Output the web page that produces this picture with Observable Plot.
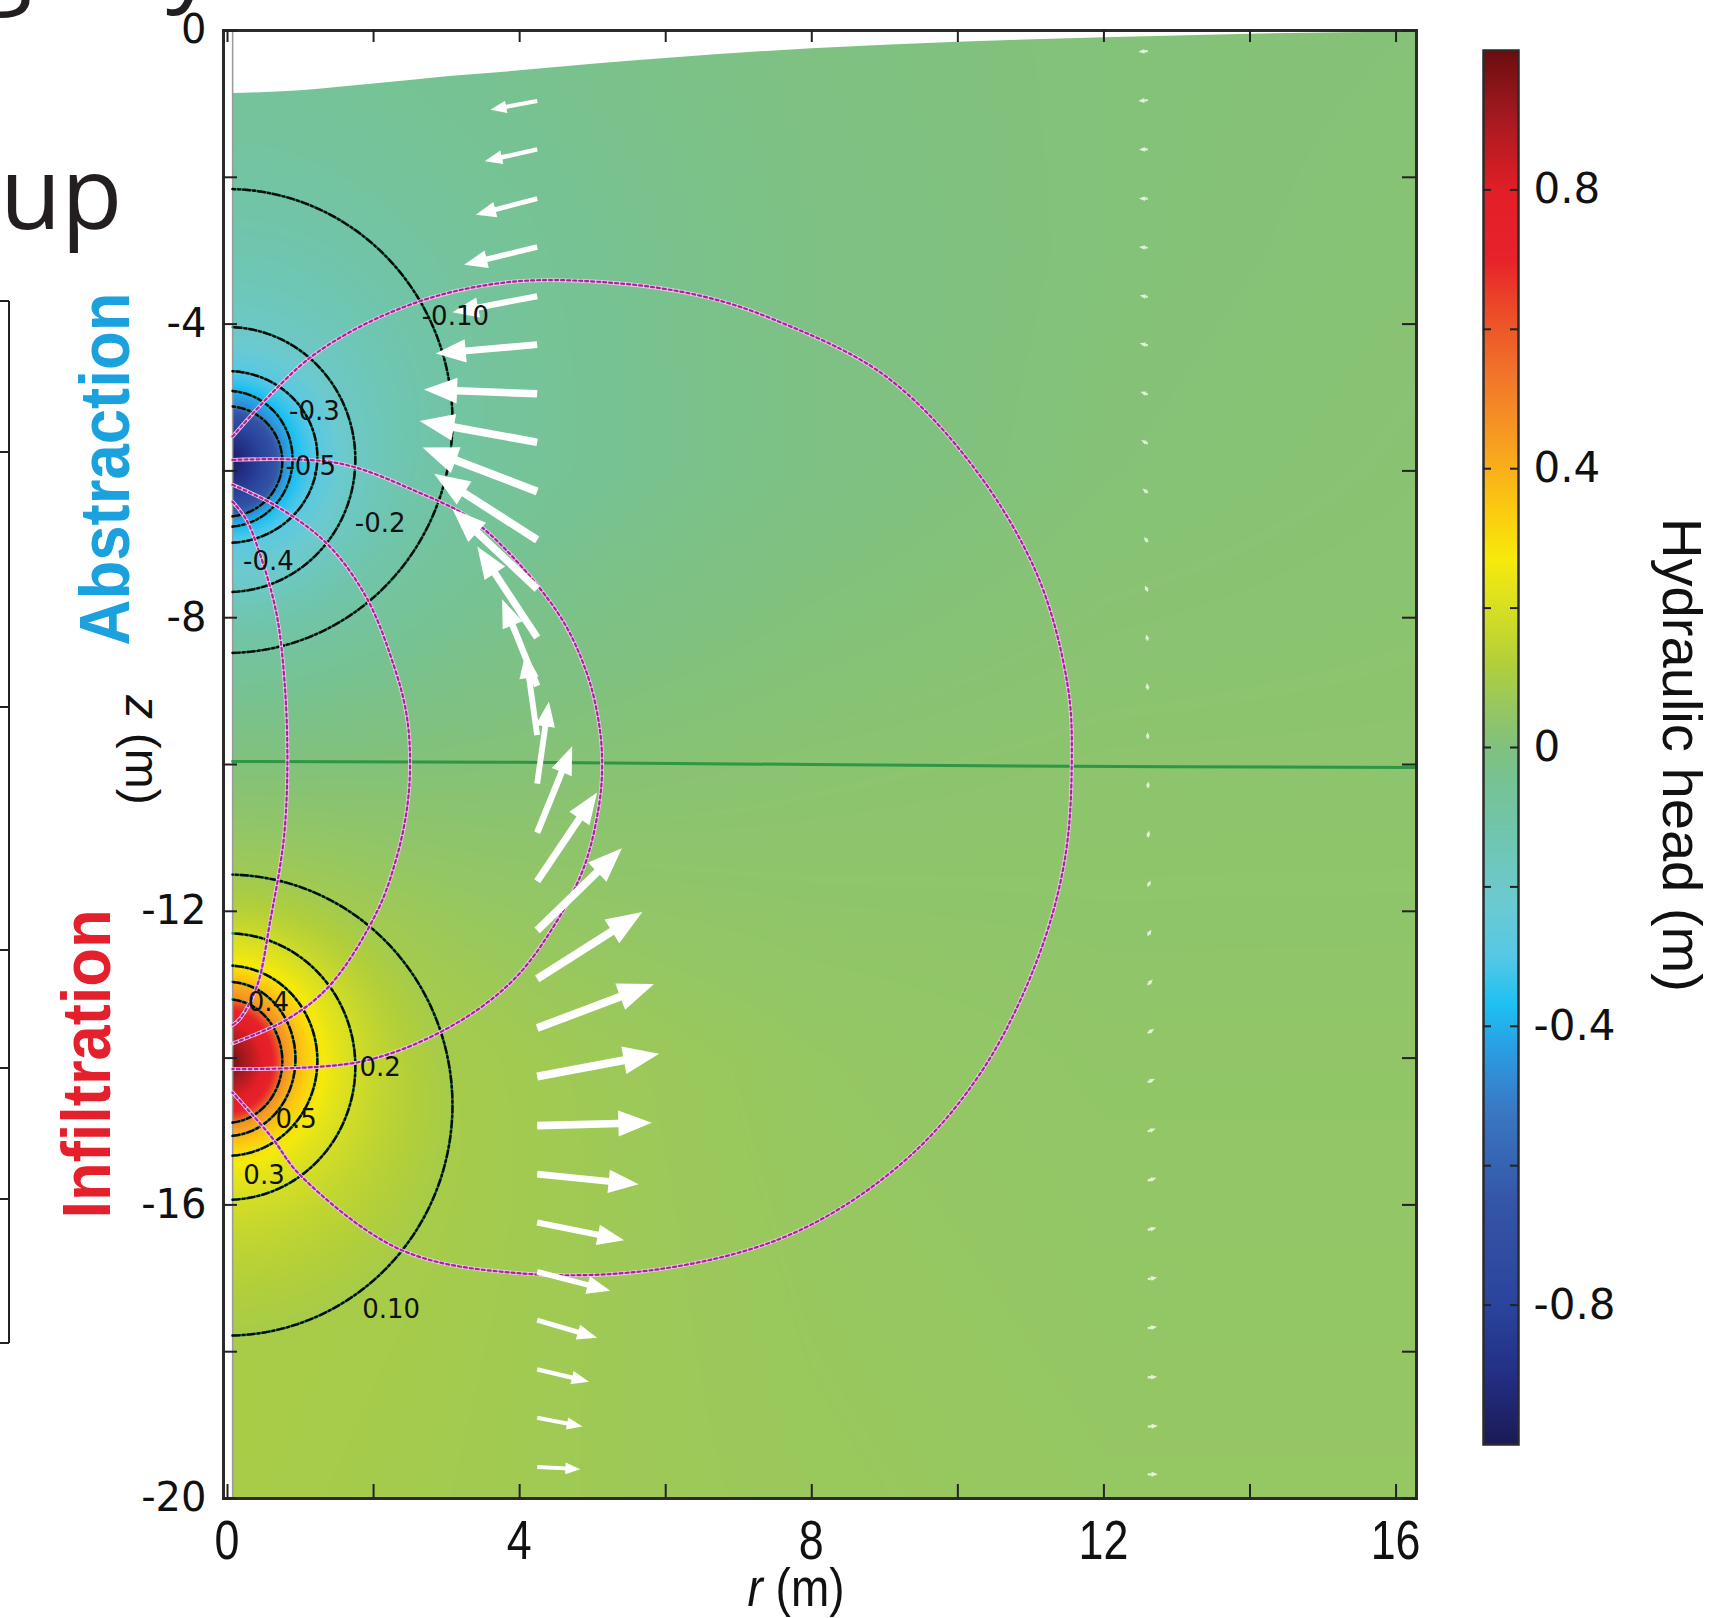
<!DOCTYPE html>
<html><head><meta charset="utf-8">
<script src="https://cdn.jsdelivr.net/npm/d3@7"></script>
<script src="https://cdn.jsdelivr.net/npm/@observablehq/plot@0.6"></script>
<style>
html,body{margin:0;padding:0;background:#fff;}
#wrap{position:relative;width:1729px;height:1618px;overflow:hidden;background:#fff;}
#wrap svg{position:absolute;overflow:visible;}
</style></head><body><div id="wrap"></div>
<script>
// ---------- axes / ticks ----------
const rTicks = [0, 4, 8, 12, 16];
const rMinor = [0, 2, 4, 6, 8, 10, 12, 14, 16];
const zTicks = [0, -4, -8, -12, -16, -20];
const zMinor = [0, -2, -4, -6, -8, -10, -12, -14, -16, -18, -20];
const cbTicks = [0.8, 0.4, 0, -0.4, -0.8];
const cbTickLabels = ["0.8", "0.4", "0", "-0.4", "-0.8"];
const cbMinor = [0.8, 0.6, 0.4, 0.2, 0, -0.2, -0.4, -0.6, -0.8];

// ---------- colour map ----------
const cmapValues = [-1.0,-0.9,-0.8,-0.65,-0.52,-0.43,-0.37,-0.3,-0.22,-0.12,-0.04,0,0.05,0.12,0.2,0.27,0.34,0.42,0.52,0.62,0.7,0.8,0.9,1.0];
const cmapColors = ["#1b1a55","#232f85","#2a449d","#3456a8","#3a78c4","#2a9fe3","#1ec0f2","#55c8e6","#6ccad0","#6fc5ad","#78c290","#80c17e","#93c665","#b2cf3a","#d8df22","#f6ea0b","#fccb10","#f8a61e","#f27b2a","#ec4f28","#e8222a","#e21e26","#a81a20","#6a0d10"];

// ---------- domain ----------
const wellRadius = 0.07;
const rFrame = [-0.055, 16.28];
const zFrame = [-20, 0];

// water table (top of saturated domain)
const wtR = [0.07, 1, 2, 3, 4, 5, 6, 8, 10, 12, 14, 16.28];
const wtZ = [-0.86, -0.82, -0.73, -0.63, -0.55, -0.46, -0.38, -0.25, -0.16, -0.1, -0.05, -0.02];

// zero-head line between the wells
const midR = [0.07, 4, 8, 10.8, 12.9, 16.28];
const midZ = [-9.96, -9.97, -10.0, -10.02, -10.03, -10.04];

// ---------- far-field head (m), read on a coarse grid ----------
const bgR = [0, 4, 8, 12, 16.3];
const bgZ = [0, -3, -6, -10, -14, -17, -20];
const bgRow0  = [-0.05, -0.03, -0.005, 0.01, 0.015];
const bgRow3  = [-0.07, -0.045, -0.01, 0.01, 0.02];
const bgRow6  = [-0.08, -0.05, -0.01, 0.015, 0.025];
const bgRow10 = [0.01, 0.02, 0.03, 0.035, 0.035];
const bgRow14 = [0.11, 0.08, 0.055, 0.045, 0.045];
const bgRow17 = [0.11, 0.08, 0.06, 0.05, 0.05];
const bgRow20 = [0.10, 0.08, 0.065, 0.055, 0.055];

// ---------- contours around the wells ----------
const absLevels = [-0.10, -0.2, -0.3, -0.4, -0.5];
const absRmax   = [3.08, 1.75, 1.23, 0.89, 0.75];
const absZtop   = [-2.16, -4.04, -4.64, -4.91, -5.12];
const absZbot   = [-8.48, -7.65, -6.98, -6.76, -6.62];
const absPeak = -1.0;
const infLevels = [0.10, 0.2, 0.3, 0.4, 0.5];
const infRmax   = [3.08, 1.75, 1.23, 0.93, 0.75];
const infZtop   = [-11.5, -12.3, -12.74, -12.96, -13.2];
const infZbot   = [-17.78, -15.93, -15.33, -15.06, -14.88];
const infPeak = 1.0;

// contour labels
const labelText = ["-0.10", "-0.3", "-0.5", "-0.2", "-0.4", "0.4", "0.2", "0.5", "0.3", "0.10"];
const labelR = [3.12, 1.19, 1.14, 2.09, 0.56, 0.56, 2.09, 0.94, 0.50, 2.24];
const labelZ = [-3.90, -5.19, -5.94, -6.72, -7.24, -13.24, -14.13, -14.84, -15.60, -17.43];

// ---------- stream lines ----------
const streamA = [[0.07,-6.42],[0.26,-6.67],[0.44,-7.12],[0.67,-7.94],[0.78,-8.86],[0.82,-9.9],[0.79,-10.8],[0.73,-11.32],[0.59,-12.1],[0.41,-13.0],[0.18,-13.45],[0.07,-13.55]];
const streamB = [[0.07,-6.19],[0.67,-6.48],[1.36,-6.99],[1.9,-7.72],[2.27,-8.63],[2.45,-9.31],[2.5,-10.0],[2.45,-10.65],[2.3,-11.32],[2.05,-12.0],[1.41,-13.0],[0.82,-13.47],[0.07,-13.8]];
const streamC = [[0.07,-5.85],[1.49,-5.89],[2.54,-6.26],[3.41,-6.71],[4.5,-7.9],[4.9,-8.7],[5.08,-9.4],[5.13,-10.0],[5.08,-10.6],[4.88,-11.4],[4.5,-12.15],[3.9,-12.95],[3.0,-13.6],[1.82,-14.05],[0.07,-14.15]];
const streamD = [[0.07,-5.53],[1.14,-4.45],[2.46,-3.75],[3.83,-3.43],[5.3,-3.44],[6.5,-3.62],[7.46,-3.93],[8.97,-4.68],[10.17,-5.89],[11.08,-7.4],[11.5,-8.9],[11.56,-9.96],[11.46,-11.32],[11.08,-12.68],[10.32,-14.19],[9.27,-15.4],[7.76,-16.38],[5.95,-16.87],[3.98,-16.93],[2.37,-16.61],[1.0,-15.6],[0.59,-15.06],[0.07,-14.47]];

// ---------- velocity arrows ----------
const arrowR = 4.24;
const arrowZ  = [-0.96,-1.62,-2.29,-2.95,-3.62,-4.28,-4.95,-5.61,-6.28,-6.94,-7.61,-8.27,-8.93,-9.60,-10.26,-10.93,-11.59,-12.26,-12.92,-13.59,-14.25,-14.92,-15.58,-16.24,-16.91,-17.57,-18.24,-18.90,-19.57];
const arrowDr = [-0.64,-0.72,-0.84,-1.00,-1.16,-1.39,-1.55,-1.61,-1.57,-1.41,-1.16,-0.82,-0.48,-0.16,0.16,0.48,0.82,1.16,1.44,1.60,1.67,1.57,1.39,1.19,1.00,0.82,0.71,0.62,0.59];
const arrowDz = [-0.12,-0.16,-0.22,-0.24,-0.22,-0.12,0.06,0.29,0.60,0.90,1.09,1.24,1.18,1.12,1.12,1.18,1.21,1.12,0.91,0.60,0.31,0.04,-0.14,-0.24,-0.26,-0.24,-0.17,-0.12,-0.03];
const farArrowR = 12.6;
const farArrowZ  = [-0.28,-0.95,-1.62,-2.29,-2.96,-3.63,-4.29,-4.96,-5.63,-6.30,-6.97,-7.64,-8.31,-8.98,-9.65,-10.32,-10.99,-11.66,-12.33,-13.00,-13.66,-14.33,-15.00,-15.67,-16.34,-17.01,-17.68,-18.35,-19.02,-19.67];
const farArrowDr = [-0.13,-0.13,-0.12,-0.12,-0.12,-0.11,-0.11,-0.1,-0.09,-0.07,-0.05,-0.04,-0.02,-0.01,0,0.01,0.02,0.04,0.05,0.07,0.09,0.1,0.11,0.12,0.12,0.13,0.13,0.13,0.14,0.14];
const farArrowDz = [-0.01,-0.01,0,0,0.01,0.02,0.03,0.04,0.05,0.06,0.07,0.08,0.08,0.09,0.09,0.09,0.09,0.08,0.08,0.07,0.06,0.05,0.04,0.04,0.03,0.02,0.02,0.01,0.01,0];

// ================= derived tables =================
const bgRows = [bgRow0, bgRow3, bgRow6, bgRow10, bgRow14, bgRow17, bgRow20];
const bgDepth = bgZ.map(z => -z);
function interp1(xs, ys, x) {
  if (x <= xs[0]) return ys[0];
  for (let i = 1; i < xs.length; i++) if (x <= xs[i]) {
    const t = (x - xs[i-1]) / (xs[i] - xs[i-1]); return ys[i-1] + t * (ys[i] - ys[i-1]);
  }
  return ys[ys.length - 1];
}
function bgAt(r, z) {
  const col = bgRows.map(row => interp1(bgR, row, r));
  return interp1(bgDepth, col, -z);
}
const wellA = {levels: absLevels, rMax: absRmax, zTop: absZtop, zBot: absZbot, peak: absPeak};
const wellI = {levels: infLevels, rMax: infRmax, zTop: infZtop, zBot: infZbot, peak: infPeak};
function sOf(r, z, w, i) {
  const zc = (w.zTop[i] + w.zBot[i]) / 2, b = (w.zTop[i] - w.zBot[i]) / 2;
  return Math.hypot(r / w.rMax[i], (z - zc) / b);
}
function wellEval(r, z, w) {
  const n = w.levels.length;
  const s = w.levels.map((_, i) => sOf(r, z, w, i));
  if (s[0] >= 1) return {inside: false, s0: s[0]};
  let i = 0; while (i + 1 < n && s[i+1] < 1) i++;
  if (i === n - 1) return {inside: true, value: w.levels[n-1] + (w.peak - w.levels[n-1]) * Math.sqrt(1 - s[n-1])};
  const so = s[i], si = s[i+1];
  const t = (1 - so) / ((1 - so) + (si - 1));
  return {inside: true, value: w.levels[i] + (w.levels[i+1] - w.levels[i]) * t};
}
function headAt(r, z) {
  const b = bgAt(r, z);
  const A = wellEval(r, z, wellA), I = wellEval(r, z, wellI);
  const anomA = A.inside ? 0 : (wellA.levels[0] - b) * Math.pow(A.s0, -3);
  const anomI = I.inside ? 0 : (wellI.levels[0] - b) * Math.pow(I.s0, -3);
  if (A.inside) return A.value + anomI;
  if (I.inside) return I.value + anomA;
  return b + anomA + anomI;
}

const waterTable = wtR.map((r, i) => ({r, z: wtZ[i]}));
const midLine = midR.map((r, i) => ({r, z: midZ[i]}));

const contourPts = [];
[wellA, wellI].forEach((w, wi) => w.levels.forEach((lv, i) => {
  const zc = (w.zTop[i] + w.zBot[i]) / 2, b = (w.zTop[i] - w.zBot[i]) / 2, a = w.rMax[i];
  for (let t = -90; t <= 90; t += 1.5) {
    const th = t * Math.PI / 180;
    contourPts.push({id: wi + "-" + i, r: Math.max(wellRadius, a * Math.cos(th)), z: zc + b * Math.sin(th)});
  }
}));
const labels = labelText.map((t, i) => ({t, r: labelR[i], z: labelZ[i]}));

const streamPts = [];
[streamA, streamB, streamC, streamD].forEach((s, k) => s.forEach(([r, z]) => streamPts.push({id: k, r, z})));

function arrowPoly(id, r0, z0, dr, dz) {
  const L = Math.hypot(dr, dz), ux = dr / L, uy = dz / L, nx = -uy, ny = ux;
  const sw = 0.025 * L + 0.012, hl = Math.min(0.26 * L + 0.05, 0.7 * L), hw = 0.1 * L + 0.02;
  const bx = r0 + dr - ux * hl, by = z0 + dz - uy * hl;
  return [[r0 + nx*sw, z0 + ny*sw], [bx + nx*sw, by + ny*sw], [bx + nx*hw, by + ny*hw], [r0 + dr, z0 + dz],
          [bx - nx*hw, by - ny*hw], [bx - nx*sw, by - ny*sw], [r0 - nx*sw, z0 - ny*sw]]
    .map(([r, z]) => ({id, r, z}));
}
const arrowPts = arrowZ.flatMap((z, i) => arrowPoly("a" + i, arrowR, z, arrowDr[i], arrowDz[i]));
const farArrowPts = farArrowZ.flatMap((z, i) => arrowPoly("f" + i, farArrowR, z, farArrowDr[i], farArrowDz[i]));

const colorScale = {type: "linear", domain: cmapValues, range: cmapColors, interpolate: "rgb", clamp: true};

// ================= main plot =================
const W = 1729, H = 1618, mL = 223, mR = 313, mT = 30, mB = 120;
const PW = W - mL - mR, PH = H - mT - mB;
const numFont = "'DejaVu Sans', sans-serif";
const sansFont = "'Liberation Sans', Arial, sans-serif";

const main = Plot.plot({
  width: W, height: H, marginLeft: mL, marginRight: mR, marginTop: mT, marginBottom: mB,
  x: {domain: rFrame, axis: null},
  y: {domain: zFrame, axis: null},
  color: colorScale,
  style: {background: "transparent", overflow: "visible"},
  marks: [
    Plot.raster({x1: wellRadius, x2: rFrame[1], y1: zFrame[0], y2: zFrame[1], fill: (x, y) => headAt(x, y), pixelSize: 1}),
    Plot.areaY(waterTable, {x: "r", y1: "z", y2: zFrame[1], fill: "white", curve: "monotone-x"}),
    Plot.ruleX([wellRadius], {stroke: "#9a9a9a", strokeWidth: 1.5}),
    Plot.line(midLine, {x: "r", y: "z", stroke: "#2e9645", strokeWidth: 3}),
    Plot.line(contourPts, {x: "r", y: "z", z: "id", stroke: "#17885a", strokeWidth: 2.6, strokeOpacity: 0.9}),
    Plot.line(contourPts, {x: "r", y: "z", z: "id", stroke: "#0a0a0a", strokeWidth: 2.4, strokeDasharray: "7,3,2,3"}),
    Plot.line(streamPts, {x: "r", y: "z", z: "id", curve: "catmull-rom", stroke: "#ecc6e8", strokeWidth: 3.8}),
    Plot.line(streamPts, {x: "r", y: "z", z: "id", curve: "catmull-rom", stroke: "#a8239a", strokeWidth: 2.2, strokeDasharray: "3,3"}),
    Plot.line(arrowPts, {x: "r", y: "z", z: "id", fill: "white", stroke: "none"}),
    Plot.line(farArrowPts, {x: "r", y: "z", z: "id", fill: "white", fillOpacity: 0.75, stroke: "none"}),
    Plot.text(labels, {x: "r", y: "z", text: "t", fontSize: 26, fontFamily: numFont, fill: "#111"}),
    Plot.frame({stroke: "#2b2b2b", strokeWidth: 3}),
    Plot.ruleX(rMinor, {x: d => d, insetTop: PH - 14, stroke: "#222", strokeWidth: 2}),
    Plot.ruleX(rMinor, {x: d => d, insetBottom: PH - 12, stroke: "#222", strokeWidth: 2}),
    Plot.ruleY(zMinor, {y: d => d, insetRight: PW - 14, stroke: "#222", strokeWidth: 2}),
    Plot.ruleY(zMinor, {y: d => d, insetLeft: PW - 14, stroke: "#222", strokeWidth: 2}),
    Plot.text(zTicks, {y: d => d, frameAnchor: "left", dx: -17, textAnchor: "end", text: d => String(d), fontSize: 40, fontFamily: numFont, fill: "#111"})
  ]
});
main.style.left = "0px"; main.style.top = "0px";
document.getElementById("wrap").appendChild(main);

const ms = d3.select(main);
const xs = main.scale("x");
function addText(sel, str, x, y, rot, opts) {
  const t = sel.append("text").attr("transform", `translate(${x},${y}) rotate(${rot})` + (opts.sx ? ` scale(${opts.sx},1)` : ""))
    .attr("text-anchor", opts.anchor || "middle")
    .attr("font-family", opts.family).attr("font-size", opts.size)
    .attr("font-weight", opts.weight || "normal").attr("fill", opts.fill || "#111");
  if (opts.length) t.attr("textLength", opts.length).attr("lengthAdjust", "spacingAndGlyphs");
  if (opts.baseline) t.attr("dominant-baseline", opts.baseline);
  t.text(str);
  return t;
}
// x tick labels (condensed, through the x scale)
rTicks.forEach(v => addText(ms, String(v), xs.apply(v), 1540, 0, {family: sansFont, size: 56, sx: 0.8, baseline: "central"}));
// axis titles
const rt = ms.append("text").attr("transform", "translate(796,1606) scale(0.85,1)").attr("text-anchor", "middle")
  .attr("font-family", sansFont).attr("font-size", 54).attr("fill", "#111");
rt.append("tspan").attr("font-style", "italic").text("r");
rt.append("tspan").text(" (m)");
const zt = ms.append("text").attr("transform", "translate(126,750) rotate(90)").attr("text-anchor", "middle")
  .attr("font-family", sansFont).attr("font-size", 48).attr("fill", "#111");
zt.append("tspan").attr("font-style", "italic").text("z");
zt.append("tspan").text(" (m)");
// well labels
addText(ms, "Abstraction", 129, 469, -90, {family: sansFont, size: 70, weight: "bold", fill: "#1ba1de", length: 353});
addText(ms, "Infiltration", 110, 1064, -90, {family: sansFont, size: 68, weight: "bold", fill: "#e4202c", length: 309});
// fragments of the neighbouring panel / title
addText(ms, "up", 0, 229, 0, {family: "'Open Sans', sans-serif", size: 100, fill: "#231f20", anchor: "start"});
addText(ms, "g", -22, -6, 0, {family: "'Open Sans', sans-serif", size: 100, fill: "#231f20", anchor: "start"});
addText(ms, "y", 166, -8, 0, {family: "'Open Sans', sans-serif", size: 100, fill: "#231f20", anchor: "start"});
const boxTicks = [301, 452, 707, 950, 1068, 1199, 1343];
ms.append("line").attr("x1", 9).attr("x2", 9).attr("y1", 301).attr("y2", 1343).attr("stroke", "#222").attr("stroke-width", 2);
boxTicks.forEach(y => ms.append("line").attr("x1", 0).attr("x2", 9).attr("y1", y).attr("y2", y).attr("stroke", "#222").attr("stroke-width", 2));

// ================= colour bar =================
const cbLeft = 1460, cbW = 269;
const cb = Plot.plot({
  width: cbW, height: H, marginLeft: 23, marginRight: cbW - 23 - 35, marginTop: 50, marginBottom: H - 1444,
  x: {domain: [0, 1], axis: null},
  y: {domain: [-1, 1], axis: null},
  color: colorScale,
  style: {background: "transparent", overflow: "visible"},
  marks: [
    Plot.raster({x1: 0, x2: 1, y1: -1, y2: 1, fill: (x, y) => y, pixelSize: 1}),
    Plot.frame({stroke: "#2b2b2b", strokeWidth: 2.5}),
    Plot.ruleY(cbMinor, {y: d => d, insetRight: 35 - 8, stroke: "#222", strokeWidth: 2}),
    Plot.ruleY(cbMinor, {y: d => d, insetLeft: 35 - 8, stroke: "#222", strokeWidth: 2}),
    Plot.text(cbTicks, {y: d => d, frameAnchor: "right", dx: 15, textAnchor: "start", text: (d, i) => cbTickLabels[i], fontSize: 42, fontFamily: numFont, fill: "#111"})
  ]
});
cb.style.left = cbLeft + "px"; cb.style.top = "0px";
document.getElementById("wrap").appendChild(cb);
addText(d3.select(cb), "Hydraulic head (m)", 1663 - cbLeft, 755, 90, {family: sansFont, size: 55, fill: "#111", length: 474});
</script></body></html>
